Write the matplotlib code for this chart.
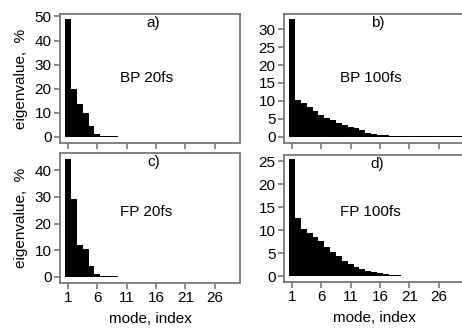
import numpy as np
import matplotlib
matplotlib.use("Agg")
import matplotlib.pyplot as plt

plt.rcParams['font.family'] = ['Liberation Sans', 'DejaVu Sans']

modes = np.arange(1, 31)

# eigenvalues in %
bp_20fs = [49.0, 20.0, 13.8, 10.0, 4.6, 1.4, 0.6, 0.35, 0.25, 0.18, 0.12, 0.08, 0.05,
           0, 0, 0, 0, 0, 0, 0, 0, 0, 0, 0, 0, 0, 0, 0, 0, 0]
bp_100fs = [32.8, 10.1, 9.5, 8.3, 7.1, 6.0, 5.1, 4.5, 3.8, 3.2, 2.8, 2.4, 1.7, 0.95, 0.65,
            0.42, 0.3, 0.22, 0.17, 0.13, 0.1, 0.08, 0.07, 0.06, 0.05, 0.04, 0.035, 0.03, 0.025, 0.02]
fp_20fs = [44.4, 29.1, 11.9, 10.6, 4.0, 1.25, 0.5, 0.3, 0.2, 0.12, 0.08, 0.05,
           0, 0, 0, 0, 0, 0, 0, 0, 0, 0, 0, 0, 0, 0, 0, 0, 0, 0]
fp_100fs = [25.4, 12.6, 10.2, 9.4, 8.5, 7.7, 6.4, 5.3, 4.4, 3.4, 2.7, 2.1, 1.6, 1.2, 0.9,
            0.7, 0.55, 0.4, 0.3, 0.2, 0.15, 0.11, 0.08, 0.06, 0.05, 0.04, 0.03, 0.025, 0.02, 0.015]

panels = [
    (bp_20fs, "a)", "BP 20fs", [0, 10, 20, 30, 40, 50], (-2.5, 51)),
    (bp_100fs, "b)", "BP 100fs", [0, 5, 10, 15, 20, 25, 30], (-1.8, 34.3)),
    (fp_20fs, "c)", "FP 20fs", [0, 10, 20, 30, 40], (-2.25, 46.5)),
    (fp_100fs, "d)", "FP 100fs", [0, 5, 10, 15, 20, 25], (-1.2, 26.3)),
]
xticks = [1, 6, 11, 16, 21, 26]

W, H = 462, 328
fig = plt.figure(figsize=(W / 100, H / 100), dpi=100)
rects = [
    (60, 14, 180, 129),
    (284, 14, 180, 129),
    (60, 153, 180, 130),
    (284, 155, 180, 127),
]
gray = '#787878'

for i, (vals, tag, name, yt, ylim) in enumerate(panels):
    l, t, w, h = rects[i]
    ax = fig.add_axes([l / W, (H - t - h) / H, w / W, h / H])
    ax.bar(modes, vals, width=1.0, color='black', linewidth=0)
    ax.set_xlim(-0.36, 30.3)
    ax.set_ylim(*ylim)
    ax.set_yticks(yt)
    ax.set_xticks(xticks)
    for s in ax.spines.values():
        s.set_color(gray)
        s.set_linewidth(1.3)
    ax.tick_params(colors=gray, labelcolor='black', labelsize=11, length=4, width=1.2,
                   direction='out', pad=2)
    ax.text(0.52, 0.93, tag, transform=ax.transAxes, ha='center', va='center', fontsize=11)
    ax.text(0.48, 0.5 if i < 2 else 0.55, name, transform=ax.transAxes,
            ha='center', va='center', fontsize=11)
    if i < 2:
        ax.set_xticklabels([])
    else:
        ax.set_xlabel("mode, index", fontsize=11, labelpad=5)
    if i % 2 == 0:
        ax.set_ylabel("eigenvalue,  %", fontsize=11, labelpad=5)

fig.savefig("out.png", dpi=100)
